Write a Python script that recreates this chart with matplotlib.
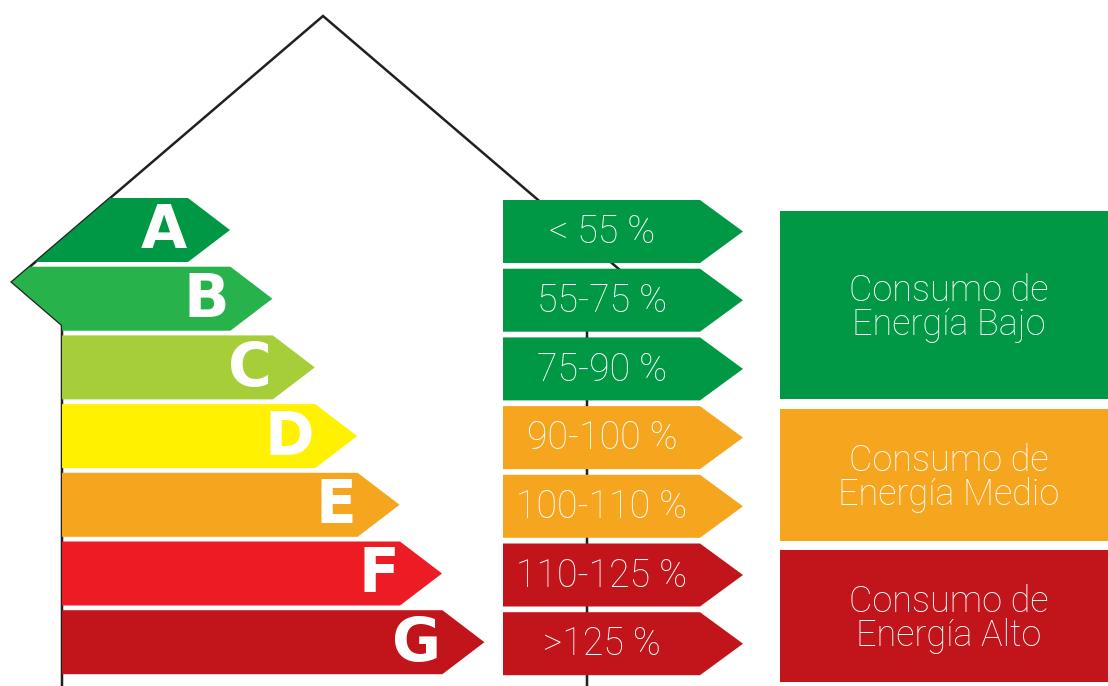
import matplotlib
matplotlib.use("Agg")
import matplotlib.pyplot as plt
from matplotlib.patches import Polygon, Rectangle

# ---- data ----
letters = ["A", "B", "C", "D", "E", "F", "G"]
letter_colors = ["#009845", "#27B24B", "#A6CE39", "#FFF100", "#F6A51E", "#ED1C24", "#C2141B"]
ranges = ["< 55 %", "55-75 %", "75-90 %", "90-100 %", "100-110 %", "110-125 %", ">125 %"]
range_colors = ["#009845", "#009845", "#009845", "#F6A51E", "#F6A51E", "#C2141B", "#C2141B"]
categories = ["Consumo de\nEnergía Bajo", "Consumo de\nEnergía Medio", "Consumo de\nEnergía Alto"]
category_colors = ["#009845", "#F6A51E", "#C2141B"]

W, H = 1108, 686
fig = plt.figure(figsize=(W / 100, H / 100), dpi=100)
ax = fig.add_axes([0, 0, 1, 1])
ax.set_xlim(0, W)
ax.set_ylim(H, 0)
ax.axis("off")

light = dict(family=["Roboto", "Lato", "Open Sans", "DejaVu Sans"], fontweight="light")

# house outline
house_x = [62, 62, 12, 323, 634, 587, 587]
house_y = [H + 5, 325, 282, 16, 282, 325, H + 5]
ax.plot(house_x, house_y, color="#231F20", lw=1.8, zorder=1, solid_joinstyle="miter")

# clip region for the letter arrows (left side follows house outline)
clip = Polygon([(62, H + 10), (62, 325), (12, 282), (323, 16), (323, -10), (W, -10), (W, H + 10)],
               closed=True, transform=ax.transData, facecolor="none", edgecolor="none")
ax.add_patch(clip)

row_top0, pitch, bh, head = 198, 68.7, 64, 42
for i, (lab, col) in enumerate(zip(letters, letter_colors)):
    top = row_top0 + i * pitch
    bot = top + bh
    mid = (top + bot) / 2
    end = 188 + i * 42.4
    poly = Polygon([(0, top), (end, top), (end + head, mid), (end, bot), (0, bot)],
                   closed=True, facecolor=col, edgecolor="none", zorder=2)
    ax.add_patch(poly)
    poly.set_clip_path(clip)
    ax.text(end - 1, mid + 2, lab, ha="right", va="center", color="white",
            fontsize=43, fontweight="bold", family="DejaVu Sans", zorder=3)

# range arrows
for i, (lab, col) in enumerate(zip(ranges, range_colors)):
    top = 200 + i * pitch
    bot = top + 63
    mid = (top + bot) / 2
    poly = Polygon([(503, top), (700, top), (743, mid), (700, bot), (503, bot)],
                   closed=True, facecolor=col, edgecolor="none", zorder=2)
    ax.add_patch(poly)
    ax.text(602, mid + 1, lab, ha="center", va="center", color="white",
            fontsize=27, zorder=3, **light)

# category boxes
box_tops = [211, 409, 550]
box_bots = [399, 541, 682]
for lab, col, t, b in zip(categories, category_colors, box_tops, box_bots):
    ax.add_patch(Rectangle((780, t), W - 780, b - t, facecolor=col, edgecolor="none", zorder=2))
    ax.text(949, (t + b) / 2 + 3, lab, ha="center", va="center", color="white",
            fontsize=26, linespacing=0.92, zorder=3, **light)

fig.savefig("out.png", dpi=100)
